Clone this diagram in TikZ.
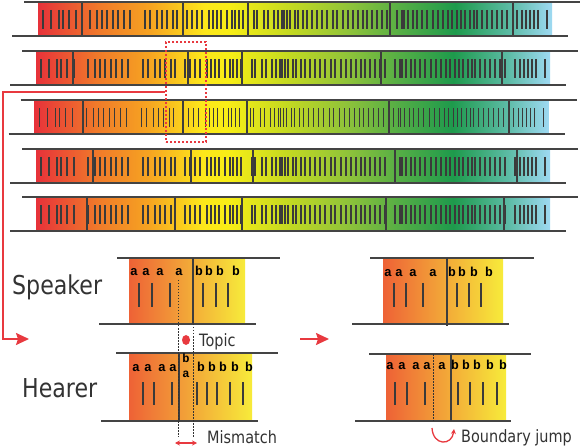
\documentclass[tikz,border=0pt]{standalone}
\usepackage{fontspec}
\setmainfont{DejaVu Sans}[FakeStretch=0.85]
\newfontfamily\lettfont{Liberation Mono}
\usetikzlibrary{arrows.meta,shapes.geometric}

\definecolor{sp0}{HTML}{E7323A}
\definecolor{sp1}{HTML}{F07A2A}
\definecolor{sp2}{HTML}{F6A321}
\definecolor{sp3}{HTML}{FDE71B}
\definecolor{sp4}{HTML}{F8EE16}
\definecolor{sp5}{HTML}{C4D921}
\definecolor{sp6}{HTML}{8FC33A}
\definecolor{sp7}{HTML}{56AE45}
\definecolor{sp8}{HTML}{1E9A4C}
\definecolor{sp9}{HTML}{5CBBA5}
\definecolor{sp10}{HTML}{9ED9F2}
\definecolor{pL}{HTML}{EE6236}
\definecolor{pM}{HTML}{F39A3C}
\definecolor{pR}{HTML}{F7EB3A}
\definecolor{lineGray}{HTML}{444444}
\definecolor{hairGray}{HTML}{3A3A3A}
\definecolor{textGray}{HTML}{333333}
\definecolor{markRed}{HTML}{E8393F}

\pgfdeclarehorizontalshading{spectrum}{100bp}{color(0bp)=(sp0); color(25bp)=(sp0);
  color(31bp)=(sp1); color(35.9bp)=(sp2); color(41.2bp)=(sp3); color(43.7bp)=(sp4);
  color(49.5bp)=(sp5); color(55.3bp)=(sp6); color(60.2bp)=(sp7); color(65.6bp)=(sp8);
  color(70.9bp)=(sp9); color(75bp)=(sp10); color(100bp)=(sp10)}

% positions of the word marks inside a strip
\newcommand\hairpos{43,51,59,63,69,76,90,97,102,107,113,118,124,130,145,150,157,162,167,173,177,
  187,192,197,202,209,213,217,221,227,232,235,239,243,254,257,264,268,274,278,282,284,287,290,
  295,298,303,307,312,317,322,327,333,337,343,348,353,358,363,367,372,377,382,387,
  397,402,404,408,413,417,422,427,433,438,443,448,452,457,461,465,470,474,477,482,487,492,497,502,507,
  517,522,526,530,534,538,547}

\begin{document}
\begin{tikzpicture}[
    x=1pt, y=-1pt,
    hline/.style={line width=1.6pt, draw=lineGray},
    bnd/.style={line width=2.4pt, draw=lineGray!90!black},
    hairline/.style={line width=1.4pt, draw=hairGray},
    shorttick/.style={line width=1.2pt, draw=hairGray},
    guide/.style={line width=0.6pt, dash pattern=on 1.5pt off 1.5pt, draw=black!80},
    sym/.style={font=\lettfont\bfseries\fontsize{13}{13}\selectfont, inner sep=0pt, anchor=base},
    lbl/.style={text=textGray, inner sep=0pt, anchor=base west},
    redarr/.style={line width=1.8pt, draw=markRed, -{Stealth[length=13pt,width=12pt,inset=2pt]}},
    redthin/.style={line width=1.3pt, draw=markRed},
    panel/.style={left color=pL, middle color=pM, right color=pR}
]
\path[use as bounding box, fill=white] (0,0) rectangle (581,446);

% the five strips
\foreach \yt/\dx/\bnds in {2/0/{82,183,248,390,513}, 51/-2/{73,188,242,381,502},
    100/-3.5/{83,183,247,389,509}, 149/-2/{93,191,253,395,517}, 197/-2/{87,175,242,386,504}} {
  \shade[shading=spectrum] (38+\dx,\yt) rectangle (552+\dx,\yt+34);
  \foreach \h in \hairpos
    \draw[hairline] (\h+\dx,\yt+8) -- (\h+\dx,\yt+27);
  \foreach \b in \bnds
    \draw[bnd] (\b,\yt) -- (\b,\yt+34);
  \draw[hline] (24+\dx,\yt) -- (580+\dx,\yt);
  \draw[hline] (12+\dx,\yt+34) -- (568+\dx,\yt+34);
}

\node[draw=markRed, line width=1.8pt, dash pattern=on 2pt off 2pt, minimum width=40pt,
  minimum height=100pt, inner sep=0pt] (focus) at (186,92) {};
\coordinate (entry) at (29,339);
\draw[redarr] (focus.west) -| (3,339) -- (entry);

% speaker, before
\shade[panel] (129,258) rectangle (245,324);
\foreach \h in {139,152,170,203,216,228}
  \draw[shorttick] (\h,283) -- (\h,307);
\draw[hline] (117,258) -- (280,258);
\draw[hline] (99,324) -- (256,324);
\draw[bnd] (193,258) -- (193,324);
\foreach \x/\c [count=\i] in {134/a,146/a,160/a,179/a,199/b,209/b,220/b,236/b}
  \node[sym] (sa\i) at (\x,276) {\c};

% hearer, before
\shade[panel] (129,353) rectangle (252,421);
\foreach \h in {143,154,172,197,207,217,230,243}
  \draw[shorttick] (\h,382) -- (\h,405);
\draw[hline] (116,353) -- (278,353);
\draw[hline] (101,421) -- (258,421);
\draw[bnd] (179,353) -- (179,422);
\foreach \x/\c [count=\i] in {136/a,148/a,162/a,173/a,201/b,212/b,223/b,235/b,249/b}
  \node[sym] (ha\i) at (\x,371) {\c};
\node[sym, font=\lettfont\bfseries\fontsize{12}{12}\selectfont] (hb) at (186,362) {b};
\node[sym, font=\lettfont\bfseries\fontsize{12}{12}\selectfont] (hc) at (186,377) {a};

\draw[guide] (178,280) -- (178,437);
\draw[guide] (193,324) -- (193,437);

\node[ellipse, fill=markRed, minimum width=8pt, minimum height=10pt, inner sep=0pt] (dot) at (186,340) {};
\node[lbl, font=\fontsize{17}{17}\selectfont] (topic) at (199,346) {Topic};

\coordinate (mmL) at (175,443);
\coordinate (mmR) at (197,443);
\draw[redthin, {Stealth[length=5pt,width=5pt]}-{Stealth[length=5pt,width=5pt]}] (mmL) -- (mmR);
\node[lbl, font=\fontsize{17}{17}\selectfont] (mismatch) at (207,443) {Mismatch};

\node[lbl, font=\fontsize{26}{26}\selectfont] (speaker) at (12,295) {Speaker};
\node[lbl, font=\fontsize{26}{26}\selectfont] (hearer) at (22,397) {Hearer};

\coordinate (ar1) at (300,339);
\coordinate (ar2) at (329,339);
\draw[redarr] (ar1) -- (ar2);

% speaker, after
\shade[panel] (383,258) rectangle (503,324);
\foreach \h in {394,406,423,457,469,481}
  \draw[shorttick] (\h,283) -- (\h,307);
\draw[hline] (370,258) -- (534,258);
\draw[hline] (352,324) -- (509,324);
\draw[bnd] (447,258) -- (447,326);
\foreach \x/\c [count=\i] in {388/a,399/a,413/a,433/a,452/b,462/b,474/b,489/b}
  \node[sym] (sb\i) at (\x,277) {\c};

% hearer, after
\shade[panel] (386,354) rectangle (506,421);
\foreach \h in {395,407,425,458,470,483,497}
  \draw[shorttick] (\h,382) -- (\h,405);
\draw[hline] (369,354) -- (531,354);
\draw[hline] (355,421) -- (511,421);
\draw[guide] (433,354) -- (433,421);
\draw[bnd] (451,354) -- (451,421);
\foreach \x/\c [count=\i] in {390/a,402/a,416/a,427/a,442/a,455/b,466/b,477/b,490/b,503/b}
  \node[sym] (hd\i) at (\x,370) {\c};

\coordinate (jmpA) at (432,428);
\coordinate (jmpB) at (454,429);
\draw[redthin, -{Stealth[length=5pt,width=5pt]}] (jmpA) .. controls (433,446) and (452,446) .. (jmpB);
\node[lbl, font=\fontsize{17}{17}\selectfont] (jump) at (461,442) {Boundary jump};
\end{tikzpicture}
\end{document}
